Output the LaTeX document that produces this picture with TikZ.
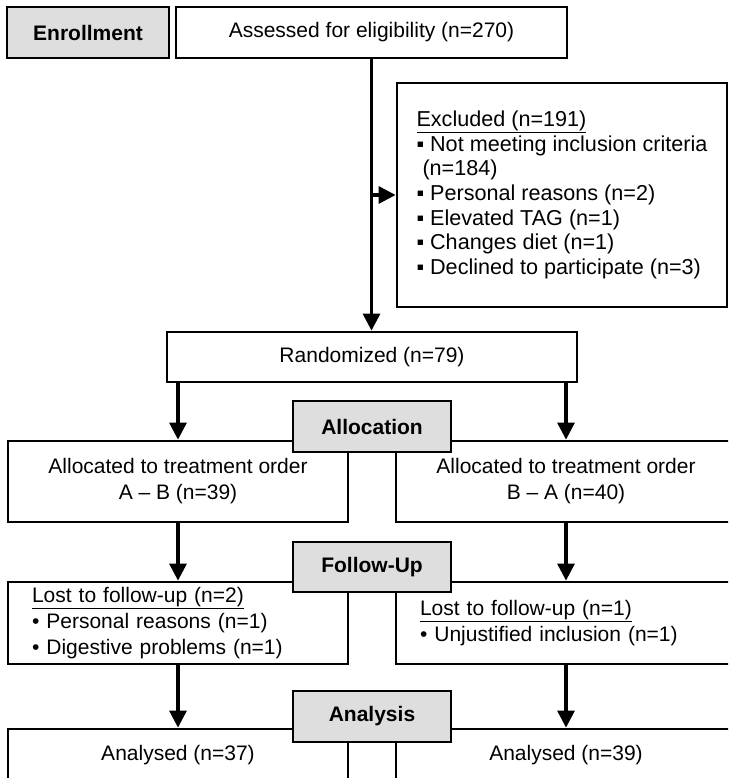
\documentclass[tikz,border=0pt]{standalone}
\usepackage{fontspec}
\setmainfont{Liberation Sans}
\usetikzlibrary{arrows.meta}
\begin{document}
\begin{tikzpicture}[x=1pt,y=-1pt,
    flowbox/.style={draw,line width=2.8pt,inner sep=0pt,minimum width=340pt,align=center,font=\fontsize{21}{26}\selectfont},
    lostbox/.style={flowbox,align=left,inner xsep=24pt,text width=292pt},
    stagebox/.style={flowbox,fill=black!13,minimum width=158pt,font=\fontsize{21}{26}\selectfont\bfseries},
    arr/.style={line width=3.2pt,-{Triangle[length=17pt,width=17pt]}}]
    \useasboundingbox (0,0) rectangle (728,778);
    \clip (0,0) rectangle (728,778);
    \node[stagebox,minimum width=162pt,minimum height=51pt] (enroll) at (88,32.5) {Enrollment};
    \node[flowbox,minimum width=391pt,minimum height=51pt] (assess) at (371.5,32.5) {Assessed for eligibility (n=270)};
    \node[flowbox,minimum width=330pt,minimum height=224pt,align=left,font=\fontsize{21.6}{24.6}\selectfont] (excl) at (562,195)
        {\underline{Excluded (n=191)}\\
         ▪ Not meeting inclusion criteria\\
         \hspace*{6pt}(n=184)\\
         ▪ Personal reasons (n=2)\\
         ▪ Elevated TAG (n=1)\\
         ▪ Changes diet (n=1)\\
         ▪ Declined to participate (n=3)};
    \node[flowbox,minimum width=410pt,minimum height=50pt] (rand) at (372,357) {Randomized (n=79)};
    \node[flowbox,minimum height=81pt] (allocL) at (178,481.5) {Allocated to treatment order\\A – B (n=39)};
    \node[flowbox,minimum height=81pt] (allocR) at (566,481.5) {Allocated to treatment order\\B – A (n=40)};
    \node[lostbox,minimum height=82pt] (lostL) at (178,623)
        {\underline{Lost to follow-up (n=2)}\\• Personal reasons (n=1)\\• Digestive problems (n=1)};
    \node[lostbox,minimum height=82pt] (lostR) at (566,623)
        {\underline{Lost to follow-up (n=1)}\\• Unjustified inclusion (n=1)};
    \node[flowbox,minimum height=53pt] (anaL) at (178,755.5) {Analysed (n=37)};
    \node[flowbox,minimum height=53pt] (anaR) at (566,755.5) {Analysed (n=39)};
    \draw[arr] (assess.south) -- (assess.south |- rand.north);
    \draw[arr] (assess.south |- excl.west) -- (excl.west);
    \draw[arr] (rand.south -| allocL.north) -- (allocL.north);
    \draw[arr] (rand.south -| allocR.north) -- (allocR.north);
    \draw[arr] (allocL) -- (lostL);
    \draw[arr] (allocR) -- (lostR);
    \draw[arr] (lostL) -- (anaL);
    \draw[arr] (lostR) -- (anaR);
    \node[stagebox,minimum height=51pt] (alloc) at (372,426.5) {Allocation};
    \node[stagebox,minimum height=50pt] (follow) at (372,567) {Follow-Up};
    \node[stagebox,minimum height=51pt] (analysis) at (372,716.5) {Analysis};
\end{tikzpicture}
\end{document}
